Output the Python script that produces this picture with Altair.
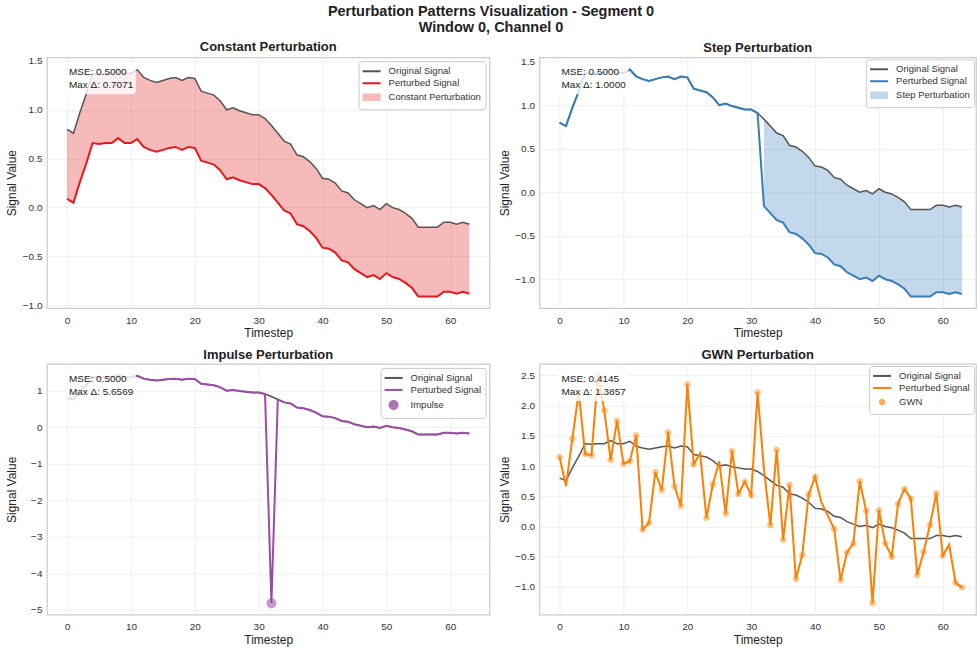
import altair as alt
import pandas as pd

# ---------------- data ----------------
T = list(range(64))

ORIGINAL = [0.80, 0.76, 0.97, 1.16, 1.37, 1.36, 1.37, 1.37, 1.42, 1.37,
            1.37, 1.41, 1.33, 1.30, 1.28, 1.30, 1.32, 1.33, 1.30, 1.33,
            1.32, 1.19, 1.17, 1.15, 1.09, 1.00, 1.02, 0.99, 0.97, 0.95,
            0.95, 0.91, 0.84, 0.76, 0.68, 0.65, 0.54, 0.52, 0.47, 0.40,
            0.30, 0.29, 0.25, 0.17, 0.15, 0.08, 0.04, 0.00, 0.02, -0.02,
            0.04, 0.00, -0.02, -0.06, -0.11, -0.20, -0.20, -0.20, -0.20, -0.15,
            -0.15, -0.17, -0.15, -0.17]

PERT_CONSTANT = [0.09, 0.05, 0.26, 0.45, 0.66, 0.65, 0.66, 0.66, 0.71, 0.66,
                 0.66, 0.70, 0.62, 0.59, 0.57, 0.59, 0.61, 0.62, 0.59, 0.62,
                 0.61, 0.48, 0.46, 0.44, 0.38, 0.29, 0.31, 0.28, 0.26, 0.24,
                 0.24, 0.20, 0.13, 0.05, -0.03, -0.06, -0.17, -0.19, -0.24, -0.31,
                 -0.41, -0.42, -0.46, -0.54, -0.56, -0.63, -0.67, -0.71, -0.69, -0.73,
                 -0.67, -0.71, -0.73, -0.77, -0.82, -0.91, -0.91, -0.91, -0.91, -0.86,
                 -0.86, -0.88, -0.86, -0.88]

PERT_STEP = [0.80, 0.76, 0.97, 1.16, 1.37, 1.36, 1.37, 1.37, 1.42, 1.37,
             1.37, 1.41, 1.33, 1.30, 1.28, 1.30, 1.32, 1.33, 1.30, 1.33,
             1.32, 1.19, 1.17, 1.15, 1.09, 1.00, 1.02, 0.99, 0.97, 0.95,
             0.95, 0.91, -0.16, -0.24, -0.32, -0.35, -0.46, -0.48, -0.53, -0.60,
             -0.70, -0.71, -0.75, -0.83, -0.85, -0.92, -0.96, -1.00, -0.98, -1.02,
             -0.96, -1.00, -1.02, -1.06, -1.11, -1.20, -1.20, -1.20, -1.20, -1.15,
             -1.15, -1.17, -1.15, -1.17]

PERT_IMPULSE = [0.80, 0.76, 0.97, 1.16, 1.37, 1.36, 1.37, 1.37, 1.42, 1.37,
                1.37, 1.41, 1.33, 1.30, 1.28, 1.30, 1.32, 1.33, 1.30, 1.33,
                1.32, 1.19, 1.17, 1.15, 1.09, 1.00, 1.02, 0.99, 0.97, 0.95,
                0.95, 0.91, -4.82, 0.76, 0.68, 0.65, 0.54, 0.52, 0.47, 0.40,
                0.30, 0.29, 0.25, 0.17, 0.15, 0.08, 0.04, 0.00, 0.02, -0.02,
                0.04, 0.00, -0.02, -0.06, -0.11, -0.20, -0.20, -0.20, -0.20, -0.15,
                -0.15, -0.17, -0.15, -0.17]

PERT_GWN = [1.15, 0.67, 1.45, 2.22, 1.20, 1.18, 2.50, 1.92, 1.10, 1.75,
            1.04, 1.08, 1.51, -0.05, 0.06, 0.90, 0.60, 1.56, 0.66, 0.34,
            2.35, 1.03, 1.21, 0.14, 0.70, 1.08, 0.21, 1.25, 0.54, 0.74,
            0.52, 2.22, 0.95, 0.02, 1.27, -0.22, 0.69, -0.87, -0.47, 0.53,
            0.82, 0.40, 0.18, -0.04, -0.89, -0.43, -0.28, 0.75, 0.26, -1.27,
            0.27, -0.28, -0.50, 0.38, 0.62, 0.46, -0.80, -0.42, 0.03, 0.55,
            -0.48, -0.30, -0.93, -1.01]

STEP_START = 32
IMPULSE_T = [32]
IMPULSE_V = [-4.82]
GWN_MARKED = [0, 2, 3, 4, 5, 6, 7, 8, 9, 10, 11, 12, 13, 14, 15, 16, 17, 18, 19,
              20, 21, 23, 24, 26, 27, 28, 29, 30, 31, 33, 34, 35, 36, 37, 38, 39,
              40, 43, 44, 45, 46, 47, 48, 49, 50, 51, 52, 53, 54, 55, 56, 57, 58,
              59, 60, 62, 63]

PANEL_TITLES = ["Constant Perturbation", "Step Perturbation",
                "Impulse Perturbation", "GWN Perturbation"]
EXTRA_LABELS = ["Constant Perturbation", "Step Perturbation", "Impulse", "GWN"]
MSE = ["0.5000", "0.5000", "0.5000", "0.4145"]
MAX_DELTA = ["0.7071", "1.0000", "5.6569", "1.3857"]
SUPTITLE = ["Perturbation Patterns Visualization - Segment 0", "Window 0, Channel 0"]

X_TICKS = [0, 10, 20, 30, 40, 50, 60]
Y_TICKS_1 = [-1.0, -0.5, 0.0, 0.5, 1.0, 1.5]
Y_TICKS_2 = [-1.0, -0.5, 0.0, 0.5, 1.0, 1.5]
Y_TICKS_3 = [-5, -4, -3, -2, -1, 0, 1]
Y_TICKS_4 = [-1.0, -0.5, 0.0, 0.5, 1.0, 1.5, 2.0, 2.5]
Y_DOMAINS = [[-1.0265, 1.5365], [-1.331, 1.551], [-5.132, 1.732], [-1.4585, 2.6885]]
X_DOMAIN_LEFT = [-3.15, 66.15]
X_DOMAIN_RIGHT = [-3.15, 65.2]

# ---------------- style ----------------
FONT = "Liberation Sans"
GRAY = "#555555"
RED = "#e41a1c"
BLUE = "#377eb8"
PURPLE = "#984ea3"
ORANGE = "#ff7f00"

LINE_SYM = "M-1.8,0H1.8"
RECT_SYM = "M-1.8,-0.75H1.8V0.75H-1.8Z"
DOT_BIG = "M-1,0A1,1,0,1,0,1,0A1,1,0,1,0,-1,0Z"
DOT_SMALL = "M-0.65,0A0.65,0.65,0,1,0,0.65,0A0.65,0.65,0,1,0,-0.65,0Z"

LEFT_W = 443
RIGHT_W = 437
PANEL_H = 251


def make_panel(i, pert, color, kind, extra_fill, extra_shape, area_start,
               pts_t, pts_v, yticks, yfmt, xdomain, width, legend_pos):
    label = EXTRA_LABELS[i]
    domain = ["Original Signal", "Perturbed Signal", label]
    stroke_scale = alt.Scale(domain=domain, range=[GRAY, color, "transparent"])
    fill_scale = alt.Scale(domain=domain, range=["transparent", "transparent", extra_fill])
    shape_scale = alt.Scale(domain=domain, range=[LINE_SYM, LINE_SYM, extra_shape])
    legend = alt.Legend(
        title=None, fillColor="rgba(255,255,255,0.8)", strokeColor="#cccccc",
        cornerRadius=3, padding=4, labelFontSize=9.5, labelColor="#333333",
        symbolSize=100, symbolStrokeWidth=2, symbolOffset=3, labelOffset=11,
        rowPadding=1, symbolOpacity=1, **legend_pos)

    xenc = alt.X("t:Q", scale=alt.Scale(domain=xdomain, nice=False, zero=False),
                 axis=alt.Axis(values=X_TICKS, format="d", title="Timestep"))

    def yenc(field):
        return alt.Y(f"{field}:Q",
                     scale=alt.Scale(domain=Y_DOMAINS[i], nice=False, zero=False),
                     axis=alt.Axis(values=yticks, format=yfmt, title="Signal Value"))

    orig_df = pd.DataFrame({"t": T, "value": ORIGINAL, "series": "Original Signal"})
    pert_df = pd.DataFrame({"t": T, "value": pert, "series": "Perturbed Signal"})

    layers = []
    if kind == "area":
        adf = pd.DataFrame({"t": T, "lo": pert, "hi": ORIGINAL, "series": label})
        adf = adf[adf["t"] >= area_start]
        layers.append(alt.Chart(adf).mark_area().encode(
            x=xenc, y=yenc("lo"), y2="hi:Q",
            fill=alt.Fill("series:N", scale=fill_scale, legend=legend)))
        pts_chart = alt.Chart(pd.DataFrame({"t": [0], "value": [0.0], "series": [label]})
                              ).transform_filter("false")
    else:
        pts_chart = alt.Chart(pd.DataFrame({"t": pts_t, "value": pts_v, "series": label}))

    layers.append(alt.Chart(orig_df).mark_line(strokeWidth=1.5).encode(
        x=xenc, y=yenc("value"),
        stroke=alt.Stroke("series:N", scale=stroke_scale, legend=legend)))
    layers.append(alt.Chart(pert_df).mark_line(strokeWidth=2).encode(
        x=xenc, y=yenc("value"),
        stroke=alt.Stroke("series:N", scale=stroke_scale, legend=legend)))
    layers.append(pts_chart.mark_point(filled=True, size=100, strokeWidth=0).encode(
        x=xenc, y=yenc("value"),
        fill=alt.Fill("series:N", scale=fill_scale, legend=legend),
        shape=alt.Shape("series:N", scale=shape_scale, legend=legend)))

    note_df = pd.DataFrame({"label": [f"MSE: {MSE[i]}\nMax \u0394: {MAX_DELTA[i]}"]})
    layers.append(alt.Chart(note_df).mark_rect(fill="white", opacity=0.8, cornerRadius=3).encode(
        x=alt.value(19), x2=alt.value(89), y=alt.value(5), y2=alt.value(37)))
    layers.append(alt.Chart(note_df).mark_text(
        align="left", baseline="top", lineBreak="\n", fontSize=10, lineHeight=13,
        color="#222222").encode(x=alt.value(22), y=alt.value(10), text="label:N"))

    return alt.layer(*layers).properties(
        width=width, height=PANEL_H,
        title=alt.TitleParams(PANEL_TITLES[i], fontSize=13, fontWeight="bold",
                              color="#222222", offset=2))


p1 = make_panel(0, PERT_CONSTANT, RED, "area", "rgba(228,26,28,0.3)", RECT_SYM, 0,
                None, None, Y_TICKS_1, ".1f", X_DOMAIN_LEFT, LEFT_W,
                {"orient": "top-right", "offset": 4})
p2 = make_panel(1, PERT_STEP, BLUE, "area", "rgba(55,126,184,0.3)", RECT_SYM, STEP_START,
                None, None, Y_TICKS_2, ".1f", X_DOMAIN_RIGHT, RIGHT_W,
                {"orient": "top-right", "offset": 2})
p3 = make_panel(2, PERT_IMPULSE, PURPLE, "points", "rgba(152,78,163,0.8)", DOT_BIG, 0,
                IMPULSE_T, IMPULSE_V, Y_TICKS_3, "d", X_DOMAIN_LEFT, LEFT_W,
                {"orient": "top-right", "offset": 4})
gwn_t = [T[k] for k in GWN_MARKED]
gwn_v = [PERT_GWN[k] for k in GWN_MARKED]
p4 = make_panel(3, PERT_GWN, ORANGE, "points", "rgba(255,127,0,0.65)", DOT_SMALL, 0,
                gwn_t, gwn_v, Y_TICKS_4, ".1f", X_DOMAIN_RIGHT, RIGHT_W,
                {"orient": "top-right", "offset": 2})

chart = alt.concat(
    p1, p2, p3, p4, columns=2, spacing={"row": 8, "column": 7}
).resolve_scale(
    x="independent", y="independent", fill="independent",
    stroke="independent", shape="independent"
).resolve_legend(
    fill="independent", stroke="independent", shape="independent"
).properties(
    title=alt.TitleParams(SUPTITLE, fontSize=14.5, fontWeight="bold", lineHeight=16,
                          anchor="middle", color="#222222", offset=5),
    padding={"left": 5, "top": 3, "right": 0, "bottom": 0},
).configure(
    font=FONT
).configure_view(
    stroke="#cccccc", strokeWidth=1.25
).configure_axis(
    gridColor="#ebebeb", gridWidth=0.8, domain=False, ticks=False,
    labelFontSize=10, labelColor="#333333", titleFontSize=12,
    titleFontWeight="normal", titleColor="#222222"
).configure_axisY(
    labelPadding=5, titlePadding=3, minExtent=25, maxExtent=25
).configure_axisX(
    labelPadding=7, titlePadding=3
)

chart.save("out.html", embed_options={"renderer": "svg", "actions": False})
